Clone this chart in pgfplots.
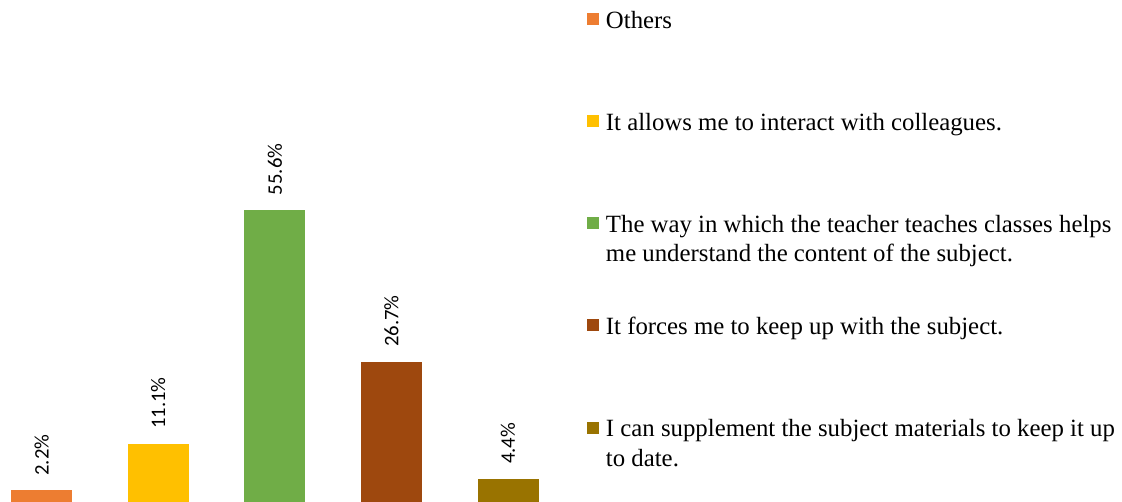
\documentclass[border=0pt]{standalone}
\usepackage{pgfplots}
\pgfplotsset{compat=1.18}
\usepackage{fontspec}
\setmainfont{Liberation Serif}
\newfontfamily\labelfont{Carlito}
\definecolor{c1}{HTML}{ED7D31}
\definecolor{c2}{HTML}{FFC000}
\definecolor{c3}{HTML}{70AD47}
\definecolor{c4}{HTML}{9E480E}
\definecolor{c5}{HTML}{997300}
\newcommand{\entry}[2]{\parbox[t]{400pt}{\strut #1\\\strut #2}}
\begin{document}
\begin{tikzpicture}
\useasboundingbox (0,0) rectangle (841.5pt,376.5pt);
\begin{axis}[
  at={(0pt,0pt)}, anchor=south west,
  x=87.45pt, y=3.9375pt,
  xmin=-0.3568, xmax=9.266, ymin=0, ymax=95.62,
  axis lines=none, clip=false,
  ybar, bar width=45.75pt, bar shift=0pt,
  nodes near coords={\pgfmathprintnumber[fixed,precision=1,fixed zerofill]{\pgfplotspointmeta}\%},
  /pgf/number format/assume math mode=true,
  every node near coord/.append style={font=\labelfont\fontsize{15.5}{17}\selectfont, text=black, rotate=90, anchor=west, inner xsep=11pt, inner ysep=0pt},
  legend image code/.code={\fill[#1] (0pt,-4.5pt) rectangle (9pt,4.5pt);},
  legend cell align=left,
  legend style={at={(0.5232,0.985)}, anchor=north west, draw=none, fill=none,
    inner sep=0pt, nodes={inner sep=0pt}, row sep=59.7pt, column sep=5pt,
    font=\fontsize{18.6}{22}\selectfont},
]
\addplot[fill=c1, draw=none] coordinates {(0,2.2)};
\addlegendentry{\entry{Others}{}}
\addplot[fill=c2, draw=none] coordinates {(1,11.1)};
\addlegendentry{\entry{It allows me to interact with colleagues.}{}}
\addplot[fill=c3, draw=none] coordinates {(2,55.6)};
\addlegendentry{\entry{The way in which the teacher teaches classes helps}{me understand the content of the subject.}}
\addplot[fill=c4, draw=none] coordinates {(3,26.7)};
\addlegendentry{\entry{It forces me to keep up with the subject.}{}}
\addplot[fill=c5, draw=none] coordinates {(4,4.4)};
\addlegendentry{\entry{I can supplement the subject materials to keep it up}{to date.}}
\end{axis}
\end{tikzpicture}
\end{document}
